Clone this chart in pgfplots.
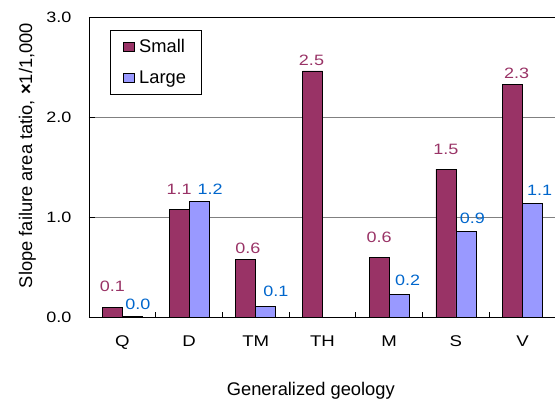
\documentclass[border=0pt]{standalone}
\usepackage{pgfplots}
\pgfplotsset{compat=1.18}
\usepackage{fontspec}
\setmainfont{Liberation Sans}
\newfontfamily\numfont{Liberation Sans}[FakeStretch=1.2]
\definecolor{smallc}{HTML}{993366}
\definecolor{largec}{HTML}{9999FF}
\definecolor{smalllab}{HTML}{993366}
\definecolor{largelab}{HTML}{0066CC}
\definecolor{gridc}{HTML}{808080}
\begin{document}
\begin{tikzpicture}
\begin{axis}[
  name=ax,
  scale only axis, width=467pt, height=300pt,
  xmin=-0.5, xmax=6.5, ymin=0, ymax=3,
  ybar=0pt, bar width=20pt,
  /pgf/number format/assume math mode=true,
  xtick={0,...,6}, xticklabels={Q,D,TM,TH,M,S,V},
  minor x tick num=1,
  major x tick style={draw=none},
  ytick={0,1,2,3},
  tick pos=left, tick align=inside,
  major tick length=6pt, minor tick length=5pt,
  every tick/.style={black, line width=0.8pt},
  axis line style={black, line width=0.9pt},
  ymajorgrids, major grid style={gridc, line width=0.8pt},
  xticklabel style={font=\numfont\fontsize{15.5}{18}\selectfont, yshift=-15pt},
  yticklabel style={font=\numfont\fontsize{15}{18}\selectfont, xshift=-14pt,
    /pgf/number format/.cd, fixed, fixed zerofill, precision=1},
  xlabel={Generalized geology},
  xlabel style={font=\fontsize{18.3}{22}\selectfont, at={(axis description cs:0.475,-0.26)}, anchor=base},
  ylabel={Slope failure area tatio, \textbf{×}1/1,000},
  ylabel style={font=\fontsize{18.3}{22}\selectfont, at={(axis description cs:-0.1317,0.538)}, anchor=center},
  legend image code/.code={\draw[#1, line width=0.8pt] (0pt,-4.3pt) rectangle (11pt,4.3pt);},
  legend style={at={(rel axis cs:0.045,0.957)}, anchor=north west,
    draw=black, line width=0.8pt, fill=white,
    font=\fontsize{18.3}{22}\selectfont,
    inner xsep=13pt, inner ysep=7pt, row sep=13pt,
    /tikz/every odd column/.style={column sep=2pt}},
  legend cell align=left,
  point meta=y,
  nodes near coords={\pgfmathprintnumber[fixed,fixed zerofill,precision=1]{\pgfplotspointmeta}},
]
\addplot[fill=smallc, draw=black, line width=0.8pt,
  visualization depends on={\thisrow{dx} \as \dx},
  visualization depends on={\thisrow{dy} \as \dy},
  every node near coord/.append style={anchor=center, xshift=\dx pt, yshift=\dy pt,
    text=smalllab, font=\numfont\fontsize{15}{18}\selectfont}]
  table[x=x, y=y] {
x y dx dy
0 0.10 0 21
1 1.08 0 20
2 0.58 2 11
3 2.46 -1 11
4 0.60 0 20
5 1.48 0 20
6 2.33 4 11
};
\addlegendentry{Small}
\addplot[fill=largec, draw=black, line width=0.8pt,
  visualization depends on={\thisrow{dx} \as \dx},
  visualization depends on={\thisrow{dy} \as \dy},
  every node near coord/.append style={anchor=center, xshift=\dx pt, yshift=\dy pt,
    text=largelab, font=\numfont\fontsize{15}{18}\selectfont}]
  table[x=x, y=y] {
x y dx dy
0 0.01 5.5 11.5
1 1.16 11 12
2 0.11 10 14.5
4 0.23 8.5 13.5
5 0.86 6.5 13
6 1.14 7 13
};
\addlegendentry{Large}
\end{axis}
\pgfresetboundingbox
\path ([xshift=-89pt,yshift=-82pt]ax.south west) rectangle ([xshift=-1pt,yshift=17pt]ax.north east);
\end{tikzpicture}
\end{document}
